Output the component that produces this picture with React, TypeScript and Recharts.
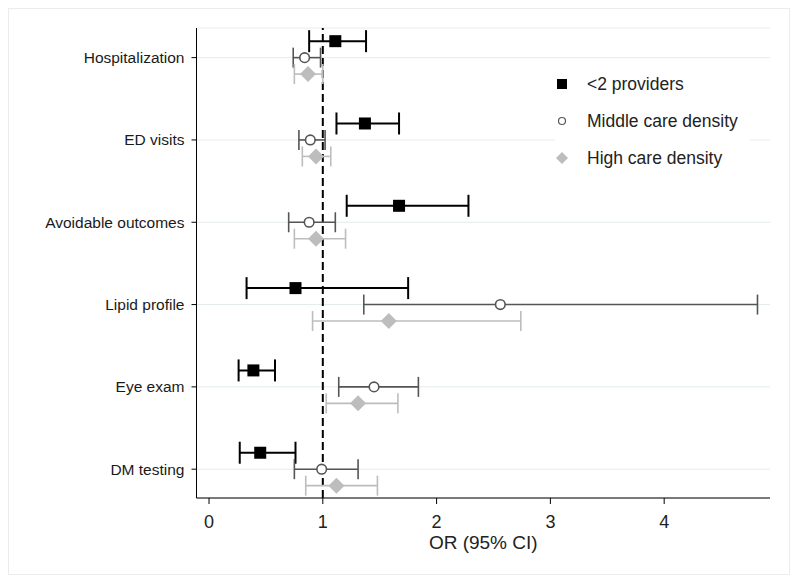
import {
  ScatterChart,
  Scatter,
  XAxis,
  YAxis,
  CartesianGrid,
  ErrorBar,
  ReferenceLine,
  Label,
} from "recharts";

// categories from bottom (y = 1) to top (y = 6)
const categories = [
  "DM testing",
  "Eye exam",
  "Lipid profile",
  "Avoidable outcomes",
  "ED visits",
  "Hospitalization",
];
const xTicks = [0, 1, 2, 3, 4];

// <2 providers
const fewOR = [0.45, 0.39, 0.76, 1.67, 1.37, 1.11];
const fewLo = [0.27, 0.26, 0.33, 1.21, 1.12, 0.88];
const fewHi = [0.76, 0.58, 1.75, 2.28, 1.67, 1.38];

// Middle care density
const midOR = [0.99, 1.45, 2.56, 0.88, 0.89, 0.84];
const midLo = [0.75, 1.14, 1.36, 0.7, 0.79, 0.74];
const midHi = [1.31, 1.84, 4.82, 1.11, 1.02, 0.98];

// High care density
const highOR = [1.12, 1.31, 1.58, 0.94, 0.94, 0.87];
const highLo = [0.85, 1.03, 0.91, 0.75, 0.82, 0.75];
const highHi = [1.48, 1.66, 2.74, 1.2, 1.07, 1.0];

const COLORS = {
  few: "#000000",
  mid: "#555555",
  high: "#bdbdbd",
};

const FONT = "'Liberation Sans', Arial, sans-serif";

const build = (or: number[], lo: number[], hi: number[], offset: number) =>
  or.map((v, i) => ({
    x: v,
    y: i + 1 + offset,
    err: [v - lo[i], hi[i] - v],
  }));

const fewData = build(fewOR, fewLo, fewHi, 0.2);
const midData = build(midOR, midLo, midHi, 0);
const highData = build(highOR, highLo, highHi, -0.2);

const SquareShape = (props: any) => (
  <rect x={props.cx - 6} y={props.cy - 6} width={12} height={12} fill={COLORS.few} />
);
const CircleShape = (props: any) => (
  <circle cx={props.cx} cy={props.cy} r={4.8} fill="#fff" stroke={COLORS.mid} strokeWidth={1.6} />
);
const DiamondShape = (props: any) => (
  <polygon
    points={`${props.cx},${props.cy - 8} ${props.cx + 8},${props.cy} ${props.cx},${props.cy + 8} ${props.cx - 8},${props.cy}`}
    fill={COLORS.high}
  />
);

const legendItems = [
  { name: "<2 providers", icon: <rect x={2} y={2} width={10} height={10} fill={COLORS.few} /> },
  { name: "Middle care density", icon: <circle cx={7} cy={7} r={3.5} fill="#fff" stroke={COLORS.mid} strokeWidth={1.2} /> },
  { name: "High care density", icon: <polygon points="7,1 13,7 7,13 1,7" fill={COLORS.high} /> },
];

const LegendBox = () => (
  <div
    style={{
      position: "absolute",
      left: 546,
      top: 56,
      background: "#fff",
      width: 195,
      height: 112,
      fontFamily: FONT,
      fontSize: 17.5,
      color: "#222",
    }}
  >
    {legendItems.map((item, i) => (
      <div
        key={item.name}
        style={{ position: "absolute", left: 0, top: 9 + i * 37, height: 20, display: "flex", alignItems: "center" }}
      >
        <svg width={14} height={14}>
          {item.icon}
        </svg>
        <span style={{ marginLeft: 18, whiteSpace: "nowrap" }}>{item.name}</span>
      </div>
    ))}
  </div>
);

const App = () => {
  return (
    <div style={{ position: "relative", width: 780, height: 565, border: "1px solid #ececec", background: "#fff" }}>
      <ScatterChart width={780} height={565} margin={{ top: 19, right: 19, left: 0, bottom: 16 }}>
        <CartesianGrid horizontal={true} vertical={false} stroke="#e3ecec" strokeWidth={1} />
        <XAxis
          type="number"
          dataKey="x"
          domain={[-0.11, 4.93]}
          ticks={xTicks}
          allowDataOverflow
          height={60}
          tickSize={6}
          tickMargin={11}
          stroke="#000"
          tick={{ fill: "#222", fontSize: 18, fontFamily: FONT }}
        >
          <Label
            content={(p: any) => (
              <text
                x={p.viewBox.x + p.viewBox.width / 2}
                y={p.viewBox.y + 51}
                textAnchor="middle"
                fill="#222"
                fontSize={19}
                fontFamily={FONT}
              >
                OR (95% CI)
              </text>
            )}
          />
        </XAxis>
        <YAxis
          type="number"
          dataKey="y"
          domain={[0.65, 6.36]}
          ticks={[1, 2, 3, 4, 5, 6]}
          tickFormatter={(v: number) => categories[v - 1] ?? ""}
          allowDataOverflow
          width={187.5}
          tickSize={5}
          tickMargin={7}
          stroke="#000"
          tick={{ fill: "#1a1a1a", fontSize: 15.5, fontFamily: FONT }}
        />
        <ReferenceLine x={1} stroke="#000" strokeWidth={2} strokeDasharray="8 4" />
        <Scatter name="<2 providers" data={fewData} shape={SquareShape} isAnimationActive={false}>
          <ErrorBar dataKey="err" direction="x" width={11} stroke={COLORS.few} strokeWidth={2} />
        </Scatter>
        <Scatter name="Middle care density" data={midData} shape={CircleShape} isAnimationActive={false}>
          <ErrorBar dataKey="err" direction="x" width={10} stroke={COLORS.mid} strokeWidth={1.6} />
        </Scatter>
        <Scatter name="High care density" data={highData} shape={DiamondShape} isAnimationActive={false}>
          <ErrorBar dataKey="err" direction="x" width={10} stroke={COLORS.high} strokeWidth={1.6} />
        </Scatter>
      </ScatterChart>
      <LegendBox />
    </div>
  );
};

export default App;
